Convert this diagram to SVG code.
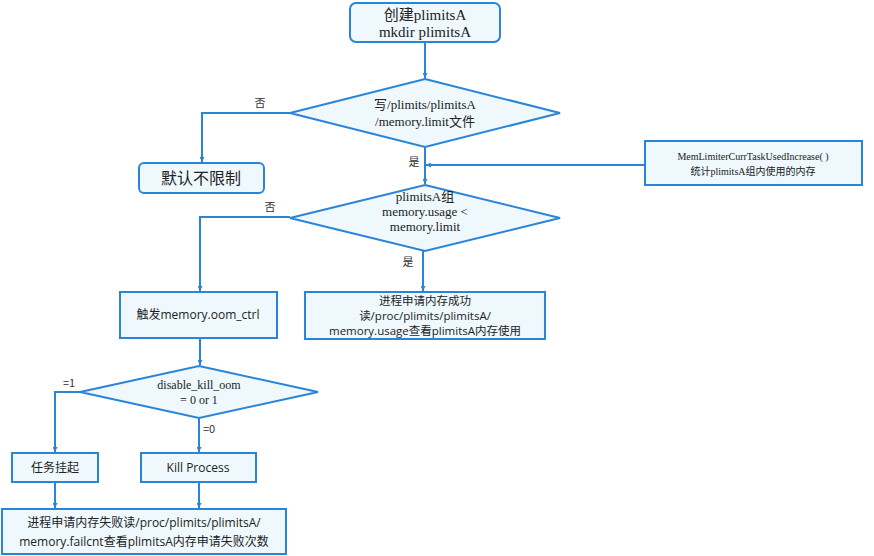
<svg xmlns="http://www.w3.org/2000/svg" width="874" height="556" viewBox="0 0 874 556">
<defs>
<marker id="ah" viewBox="0 0 10 10" refX="10" refY="5" markerWidth="5" markerHeight="5" orient="auto" markerUnits="userSpaceOnUse">
<path d="M0,0 L10,5 L0,10 z" fill="#2b85d6"/>
</marker>
<style>
.n{fill:#eef8fd;stroke:#2b85d6;stroke-width:2}
.c{fill:none;stroke:#2b85d6;stroke-width:2}
.s{font-family:"Liberation Serif","Noto Sans CJK SC",serif;fill:#222;text-anchor:middle}
.a{font-family:"Open Sans","Noto Sans CJK SC",sans-serif;fill:#222;text-anchor:middle}
.l{font-family:"Noto Sans CJK SC",sans-serif;fill:#333;font-size:11px;text-anchor:middle}
</style>
</defs>
<rect width="874" height="556" fill="#fff"/>
<g id="connectors">
<path class="c" d="M425,42 V78" marker-end="url(#ah)"/>
<path class="c" d="M290,113 H202 V162" marker-end="url(#ah)"/>
<path class="c" d="M425,147 V184" marker-end="url(#ah)"/>
<path class="c" d="M645,165 H426" marker-end="url(#ah)"/>
<path class="c" d="M290,217 H200 V291" marker-end="url(#ah)"/>
<path class="c" d="M423,251 V291" marker-end="url(#ah)"/>
<path class="c" d="M200,338 V365" marker-end="url(#ah)"/>
<path class="c" d="M80,392 H55 V452" marker-end="url(#ah)"/>
<path class="c" d="M199,418 V452" marker-end="url(#ah)"/>
<path class="c" d="M55,482 V508" marker-end="url(#ah)"/>
<path class="c" d="M199,482 V508" marker-end="url(#ah)"/>
<text class="l" x="260" y="107">否</text>
<text class="l" x="414" y="166">是</text>
<text class="l" x="270" y="211">否</text>
<text class="l" x="408" y="266">是</text>
<text class="l" x="69" y="387">=1</text>
<text class="l" x="209" y="433">=0</text>
</g>
<g id="n1">
<rect class="n" x="350" y="3" width="150" height="39" rx="6"/>
<text class="s" font-size="15" x="425" y="20">创建plimitsA</text>
<text class="s" font-size="15" x="425" y="37">mkdir plimitsA</text>
</g>
<g id="d1">
<polygon class="n" points="425,79 560,113 425,147 290,113"/>
<text class="s" font-size="13" x="425" y="109">写/plimits/plimitsA</text>
<text class="s" font-size="13" x="425" y="126">/memory.limit文件</text>
</g>
<g id="n2">
<rect class="n" x="139" y="163" width="125" height="30" rx="5"/>
<text class="a" font-size="16" x="201" y="184">默认不限制</text>
</g>
<g id="n3">
<rect class="n" x="645" y="141" width="217" height="44"/>
<text class="s" font-size="10" x="753" y="160">MemLimiterCurrTaskUsedIncrease( )</text>
<text class="s" font-size="10" x="753" y="175">统计plimitsA组内使用的内存</text>
</g>
<g id="d2">
<polygon class="n" points="425,185 560,218 425,251 290,218"/>
<text class="s" font-size="13" x="425" y="201">plimitsA组</text>
<text class="s" font-size="13" x="425" y="216">memory.usage  &lt;</text>
<text class="s" font-size="13" x="425" y="231">memory.limit</text>
</g>
<g id="n4">
<rect class="n" x="120" y="292" width="157" height="46"/>
<text class="a" font-size="12" x="198" y="319">触发memory.oom_ctrl</text>
</g>
<g id="n5">
<rect class="n" x="305" y="292" width="240" height="47"/>
<text class="a" font-size="11.5" x="425" y="305">进程申请内存成功</text>
<text class="a" font-size="11.5" x="425" y="320">读/proc/plimits/plimitsA/</text>
<text class="a" font-size="11.5" x="425" y="335">memory.usage查看plimitsA内存使用</text>
</g>
<g id="d3">
<polygon class="n" points="199,366 318,392 199,418 80,392"/>
<text class="s" font-size="12" x="199" y="389">disable_kill_oom</text>
<text class="s" font-size="12" x="199" y="404">= 0 or 1</text>
</g>
<g id="n6">
<rect class="n" x="12" y="453" width="86" height="29"/>
<text class="a" font-size="12" x="55" y="472">任务挂起</text>
</g>
<g id="n7">
<rect class="n" x="141" y="453" width="115" height="29"/>
<text class="a" font-size="12" x="198" y="472">Kill Process</text>
</g>
<g id="n8">
<rect class="n" x="2" y="509" width="284" height="45"/>
<text class="a" font-size="12" x="144" y="527">进程申请内存失败读/proc/plimits/plimitsA/</text>
<text class="a" font-size="12" x="144" y="546">memory.failcnt查看plimitsA内存申请失败次数</text>
</g>
</svg>
